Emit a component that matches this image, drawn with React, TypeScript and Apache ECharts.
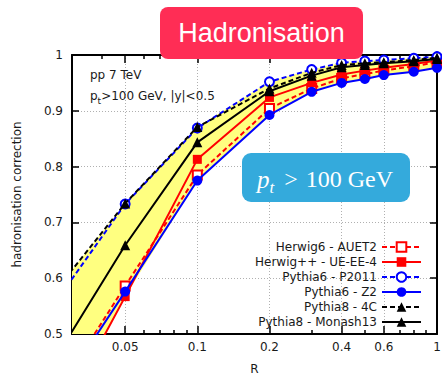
import React, { useEffect, useRef } from "react";
import * as echarts from "echarts";

// Jet radius values (R)
const R = [0.02, 0.05, 0.1, 0.2, 0.3, 0.4, 0.5, 0.6, 0.8, 1.0];

// Hadronisation corrections
const herwig6AUET2 = [0.319, 0.586, 0.785, 0.904, 0.94, 0.958, 0.966, 0.972, 0.98, 0.987];
const herwigppUEEE4 = [0.249, 0.567, 0.813, 0.924, 0.95, 0.965, 0.972, 0.977, 0.984, 0.99];
const pythia6P2011 = [0.492, 0.733, 0.869, 0.952, 0.974, 0.986, 0.989, 0.991, 0.994, 0.997];
const pythia6Z2 = [0.317, 0.576, 0.775, 0.8925, 0.934, 0.95, 0.957, 0.964, 0.97, 0.977];
const pythia84C = [0.52, 0.734, 0.871, 0.94, 0.968, 0.982, 0.985, 0.987, 0.991, 0.995];
const pythia8Monash13 = [0.382, 0.659, 0.8435, 0.935, 0.963, 0.978, 0.982, 0.985, 0.989, 0.993];

const seriesNames = [
  "Herwig6 - AUET2",
  "Herwig++ - UE-EE-4",
  "Pythia6 - P2011",
  "Pythia6 - Z2",
  "Pythia8 - 4C",
  "Pythia8 - Monash13",
];

const xLabelValues = [0.05, 0.1, 0.2, 0.4, 0.6, 1];
const xLabelTexts = ["0.05", "0.1", "0.2", "0.4", "0.6", "1"];
const xMinorTickValues = [0.04, 0.06, 0.07, 0.08, 0.09, 0.3, 0.5, 0.7, 0.8, 0.9];
const X_MIN = 0.03;
const X_MAX = 1;
const Y_MIN = 0.5;
const Y_MAX = 1;
const Y_STEP = 0.1;

const lg = (v: number) => Math.log10(v);

export default function App() {
  const ref = useRef<HTMLDivElement>(null);
  useEffect(() => {
    if (!ref.current) return;
    const chart = echarts.init(ref.current, null, { renderer: "svg" });
    const all = [herwig6AUET2, herwigppUEEE4, pythia6P2011, pythia6Z2, pythia84C, pythia8Monash13];
    const low = R.map((_, i) => Math.min(...all.map((s) => s[i])));
    const high = R.map((_, i) => Math.max(...all.map((s) => s[i])));
    const font = "DejaVu Sans";

    const styles = [
      { color: "#ff0000", dash: true, symbol: "emptyRect", size: 9 },
      { color: "#ff0000", dash: false, symbol: "rect", size: 9 },
      { color: "#0000ff", dash: true, symbol: "emptyCircle", size: 9 },
      { color: "#0000ff", dash: false, symbol: "circle", size: 10 },
      { color: "#000000", dash: true, symbol: "triangle", size: 10 },
      { color: "#000000", dash: false, symbol: "triangle", size: 10 },
    ];

    const labelFmt = (v: number) => {
      let best = 0;
      let bd = Infinity;
      xLabelValues.forEach((x, i) => {
        const d = Math.abs(lg(x) - v);
        if (d < bd) {
          bd = d;
          best = i;
        }
      });
      return xLabelTexts[best];
    };

    const baseX = {
      type: "value" as const,
      min: lg(X_MIN),
      max: lg(X_MAX),
      gridIndex: 0,
    };

    const serif = "Liberation Serif";
    const option: any = {
      animation: false,
      textStyle: { fontFamily: font },
      grid: { left: 72, right: 5, top: 55, bottom: 42, containLabel: false, outerBoundsMode: "none" },
      xAxis: [
        {
          ...baseX,
          position: "bottom",
          name: "R",
          nameLocation: "middle",
          nameGap: 29,
          nameTextStyle: { fontFamily: font, fontSize: 12, color: "#1a1a1a" },
          axisLine: { show: true, onZero: false, lineStyle: { color: "#000", width: 2 } },
          axisTick: { show: true, inside: true, length: 8, customValues: xLabelValues.map(lg), lineStyle: { color: "#000", width: 1.5 } },
          axisLabel: { show: true, customValues: xLabelValues.map(lg), formatter: labelFmt, margin: 7, fontFamily: font, fontSize: 12, color: "#1a1a1a" },
          splitLine: { show: true, lineStyle: { color: "#b0b0b0", width: 1, type: [1, 2] } },
        },
        {
          ...baseX,
          position: "bottom",
          axisLine: { show: false },
          axisTick: { show: true, inside: true, length: 4, customValues: xMinorTickValues.map(lg), lineStyle: { color: "#000", width: 1.5 } },
          axisLabel: { show: false },
          splitLine: { show: false },
        },
        {
          ...baseX,
          position: "top",
          axisLine: { show: true, onZero: false, lineStyle: { color: "#000", width: 2 } },
          axisTick: { show: true, inside: true, length: 8, customValues: xLabelValues.map(lg), lineStyle: { color: "#000", width: 1.5 } },
          axisLabel: { show: false },
          splitLine: { show: false },
        },
        {
          ...baseX,
          position: "top",
          axisLine: { show: false },
          axisTick: { show: true, inside: true, length: 4, customValues: xMinorTickValues.map(lg), lineStyle: { color: "#000", width: 1.5 } },
          axisLabel: { show: false },
          splitLine: { show: false },
        },
      ],
      yAxis: [
        {
          type: "value",
          min: Y_MIN,
          max: Y_MAX,
          interval: Y_STEP,
          position: "left",
          name: "hadronisation correction",
          nameLocation: "middle",
          nameGap: 49,
          nameTextStyle: { fontFamily: font, fontSize: 12, color: "#1a1a1a" },
          axisLine: { show: true, onZero: false, lineStyle: { color: "#000", width: 2 } },
          axisTick: { show: true, inside: true, length: 7, lineStyle: { color: "#000", width: 1.5 } },
          axisLabel: { margin: 9, fontFamily: font, fontSize: 12, color: "#1a1a1a" },
          splitLine: { show: true, lineStyle: { color: "#b0b0b0", width: 1, type: [1, 2] } },
        },
        {
          type: "value",
          min: Y_MIN,
          max: Y_MAX,
          interval: Y_STEP,
          position: "right",
          axisLine: { show: true, onZero: false, lineStyle: { color: "#000", width: 2 } },
          axisTick: { show: true, inside: true, length: 7, lineStyle: { color: "#000", width: 1.5 } },
          axisLabel: { show: false },
          splitLine: { show: false },
        },
      ],
      legend: {
        data: seriesNames,
        orient: "vertical",
        align: "right",
        right: 20,
        top: 241,
        padding: 0,
        itemWidth: 39,
        itemHeight: 12,
        itemGap: 3,
        textStyle: { fontFamily: font, fontSize: 12, color: "#1a1a1a" },
      },
      series: [
        {
          type: "custom",
          name: "band",
          silent: true,
          clip: true,
          z: 1,
          data: [[lg(0.1), 0.8]],
          renderItem: (params: any, api: any) => {
            if (params.dataIndex !== 0) return null;
            const pts: number[][] = [];
            R.forEach((r, i) => pts.push(api.coord([lg(r), high[i]])));
            for (let i = R.length - 1; i >= 0; i--) pts.push(api.coord([lg(R[i]), low[i]]));
            return {
              type: "polygon",
              shape: { points: pts },
              style: { fill: "#ffff80", stroke: "none" },
            };
          },
        },
        ...all.map((vals, k) => ({
          type: "line",
          name: seriesNames[k],
          data: R.map((r, i) => [lg(r), vals[i]]),
          symbol: styles[k].symbol,
          symbolSize: styles[k].size,
          showSymbol: true,
          clip: true,
          z: 3 + k,
          lineStyle: { color: styles[k].color, width: 2, type: styles[k].dash ? [5, 3] : "solid" },
          itemStyle: { color: styles[k].color, borderWidth: styles[k].symbol.startsWith("empty") ? 2 : 0 },
        })),
      ],
      graphic: [
        {
          type: "rect",
          shape: { x: 160, y: 7, width: 203, height: 52, r: 8 },
          style: { fill: "#ff2d55" },
          z: 100,
        },
        {
          type: "text",
          x: 261.5,
          y: 33,
          z: 101,
          style: {
            text: "Hadronisation",
            fill: "#ffffff",
            fontSize: 27,
            fontFamily: "Liberation Sans",
            align: "center",
            verticalAlign: "middle",
          },
        },
        {
          type: "rect",
          shape: { x: 242, y: 153, width: 168, height: 49, r: 9 },
          style: { fill: "#34aadc" },
          z: 100,
        },
        {
          type: "text",
          x: 257,
          y: 179,
          z: 101,
          style: {
            text: "{p|p}{t|t}{g|>}{n|100 GeV}",
            align: "left",
            verticalAlign: "middle",
            rich: {
              p: { fontFamily: serif, fontStyle: "italic", fontSize: 25, fill: "#fff", color: "#fff", verticalAlign: "middle", lineHeight: 34 },
              t: { fontFamily: serif, fontStyle: "italic", fontSize: 17, fill: "#fff", color: "#fff", verticalAlign: "bottom", lineHeight: 20 },
              g: { fontFamily: serif, fontSize: 24, fill: "#fff", color: "#fff", verticalAlign: "middle", lineHeight: 34, padding: [0, 8, 0, 10] },
              n: { fontFamily: serif, fontSize: 24, fill: "#fff", color: "#fff", verticalAlign: "middle", lineHeight: 34 },
            },
          },
        },
        {
          type: "text",
          x: 90,
          y: 75,
          z: 101,
          style: { text: "pp 7 TeV", fontFamily: font, fontSize: 12, fill: "#1a1a1a", verticalAlign: "middle" },
        },
        {
          type: "text",
          x: 90,
          y: 96,
          z: 101,
          style: {
            text: "{a|p}{s|t}{a|>100 GeV, |y|<0.5}",
            verticalAlign: "middle",
            rich: {
              a: { fontFamily: font, fontSize: 12, fill: "#1a1a1a", color: "#1a1a1a", verticalAlign: "middle", lineHeight: 18 },
              s: { fontFamily: font, fontSize: 9, fill: "#1a1a1a", color: "#1a1a1a", verticalAlign: "bottom", lineHeight: 10 },
            },
          },
        },
      ],
    };
    chart.setOption(option);
    return () => chart.dispose();
  }, []);
  return <div ref={ref} style={{ width: 442, height: 376, position: "absolute", left: 0, top: 0 }} />;
}
